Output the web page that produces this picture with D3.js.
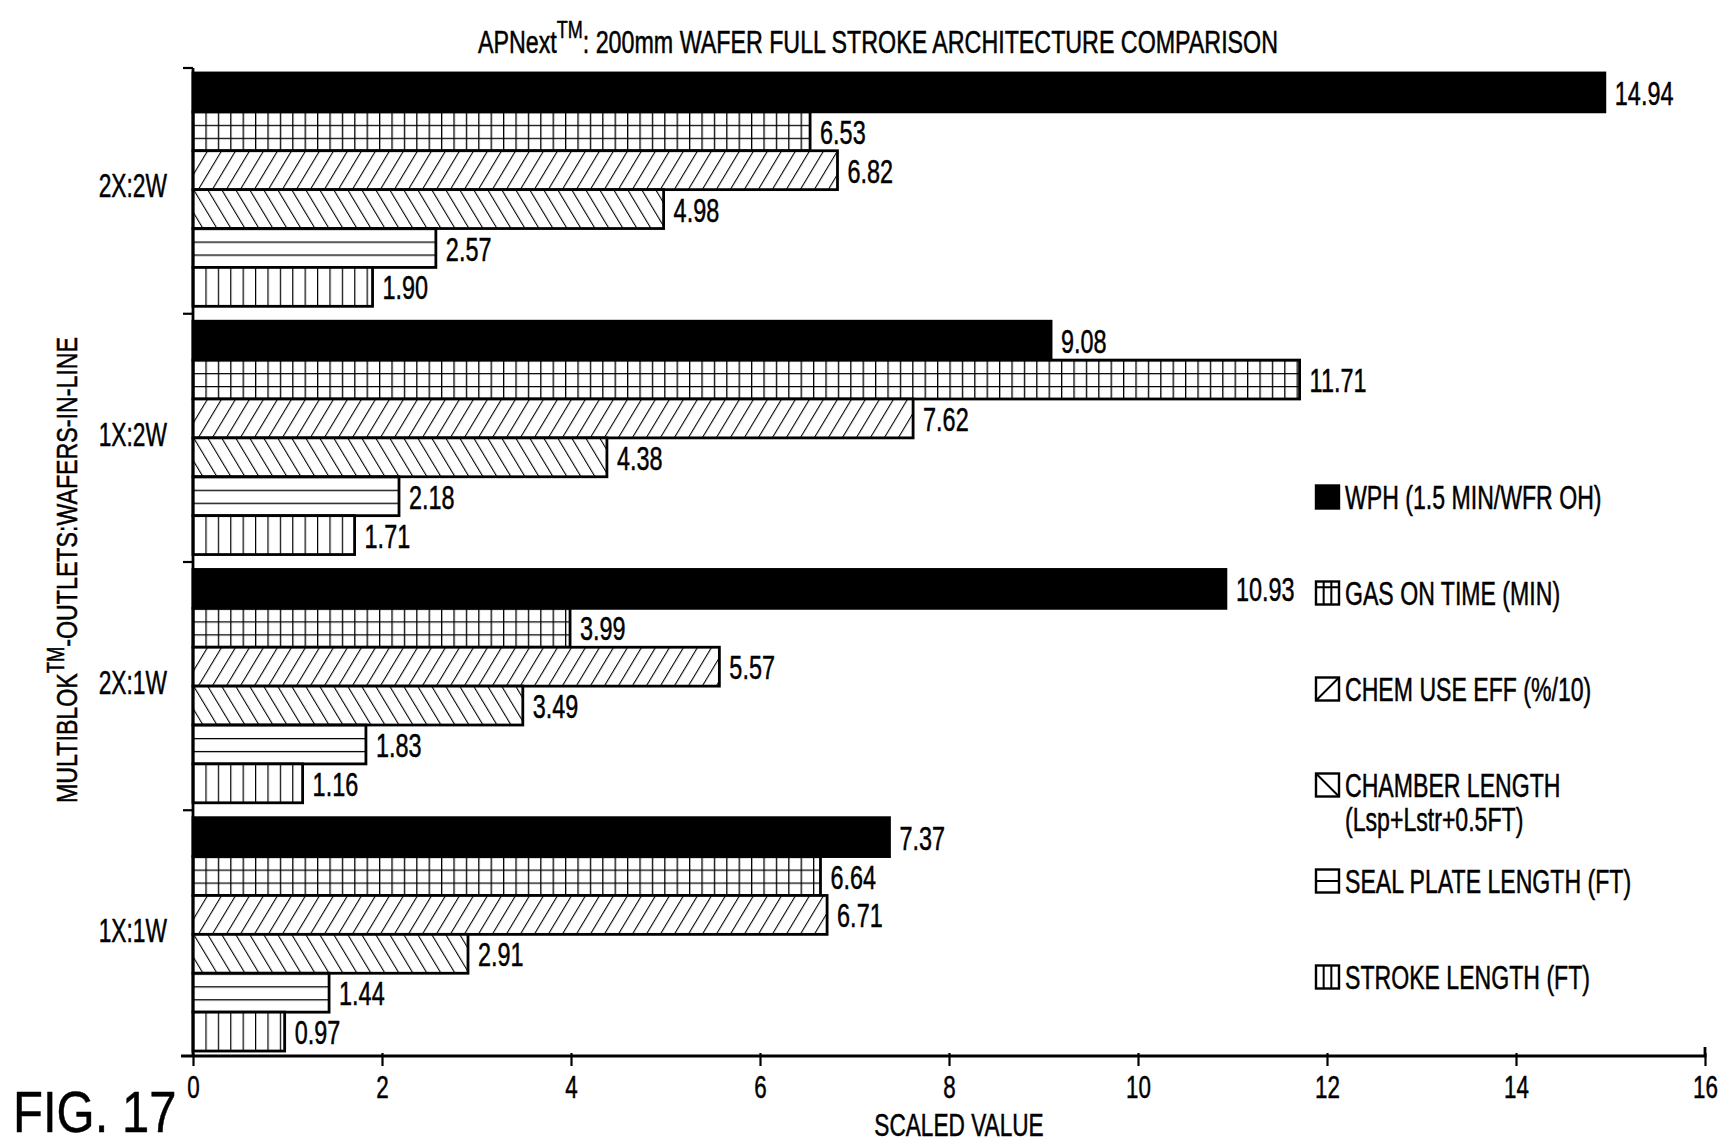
<!DOCTYPE html>
<html>
<head>
<meta charset="utf-8">
<title>APNext 200mm wafer full stroke architecture comparison</title>
<script src="https://cdn.jsdelivr.net/npm/d3@7"></script>
<style>
	body { margin: 0; background: #fff; }
	text { font-family: 'Liberation Sans', Arial, sans-serif; fill: #000; stroke: #000; stroke-width: 0.5px; }
</style>
</head>
<body>
<div id="visContainer"></div>
<script>
'use strict';

// categories top to bottom
var categories = ['2X:2W', '1X:2W', '2X:1W', '1X:1W'];

// one array per series, values in category order
var wph = [14.94, 9.08, 10.93, 7.37];
var gasOnTime = [6.53, 11.71, 3.99, 6.64];
var chemUseEff = [6.82, 7.62, 5.57, 6.71];
var chamberLength = [4.98, 4.38, 3.49, 2.91];
var sealPlateLength = [2.57, 2.18, 1.83, 1.44];
var strokeLength = [1.90, 1.71, 1.16, 0.97];

var seriesValues = [wph, gasOnTime, chemUseEff, chamberLength, sealPlateLength, strokeLength];
var seriesKeys = ['solid', 'grid', 'fwd', 'back', 'horiz', 'vert'];
var legendLabels = [
	['WPH (1.5 MIN/WFR OH)'],
	['GAS ON TIME (MIN)'],
	['CHEM USE EFF (%/10)'],
	['CHAMBER LENGTH', '(Lsp+Lstr+0.5FT)'],
	['SEAL PLATE LENGTH (FT)'],
	['STROKE LENGTH (FT)']
];
var xTicks = [0, 2, 4, 6, 8, 10, 12, 14, 16];

var svg = d3.select('#visContainer')
	.append('svg')
	.attr('width', 1725)
	.attr('height', 1143);

var MARGIN = { left: 193, top: 68 };
var plotRight = 1705;
var plotBottom = 1056;

// the original lettering is a condensed face; squeeze a normal one horizontally
var NARROW = 0.71;
function squeeze(x, y, s) {
	return 'translate(' + x + ',' + y + ') scale(' + (s || NARROW) + ',1)';
}

var x = d3.scaleLinear().domain([0, 16]).range([MARGIN.left, plotRight]);
var y0 = d3.scaleBand().domain(categories).range([MARGIN.top, plotBottom])
	.paddingInner(0.06).paddingOuter(0.02);
var y1 = d3.scaleBand().domain(d3.range(seriesValues.length)).range([0, y0.bandwidth()]);
var bh = y1.bandwidth();

// hatch patterns (userSpaceOnUse, so they line up with each bar's own origin)
var defs = svg.append('defs');
var hatchW = 12.4;
var diagW = 14;

var pGrid = defs.append('pattern').attr('id', 'grid')
	.attr('patternUnits', 'userSpaceOnUse').attr('width', hatchW).attr('height', bh / 3);
pGrid.append('rect').attr('width', hatchW).attr('height', bh / 3).attr('fill', '#fff');
pGrid.append('path').attr('d', 'M0,0H' + hatchW + 'M0,0V' + (bh / 3))
	.attr('stroke', '#000').attr('stroke-width', 2.6);

var pHoriz = defs.append('pattern').attr('id', 'horiz')
	.attr('patternUnits', 'userSpaceOnUse').attr('width', hatchW).attr('height', bh / 3);
pHoriz.append('rect').attr('width', hatchW).attr('height', bh / 3).attr('fill', '#fff');
pHoriz.append('path').attr('d', 'M0,0H' + hatchW).attr('stroke', '#000').attr('stroke-width', 2.6);

var pVert = defs.append('pattern').attr('id', 'vert')
	.attr('patternUnits', 'userSpaceOnUse').attr('width', hatchW).attr('height', bh);
pVert.append('rect').attr('width', hatchW).attr('height', bh).attr('fill', '#fff');
pVert.append('path').attr('d', 'M0,0V' + bh).attr('stroke', '#000').attr('stroke-width', 2.4);

// diagonals are skewed vertical lines
[['fwd', -31], ['back', 31]].forEach(function (p) {
	var pat = defs.append('pattern').attr('id', p[0])
		.attr('patternUnits', 'userSpaceOnUse')
		.attr('width', diagW).attr('height', bh)
		.attr('patternTransform', 'skewX(' + p[1] + ')');
	pat.append('rect').attr('x', -1).attr('width', diagW + 2).attr('height', bh).attr('fill', '#fff');
	pat.append('path').attr('d', 'M0,-1V' + (bh + 1)).attr('stroke', '#000').attr('stroke-width', 2.5);
});

function fillFor(key) {
	return key === 'solid' ? '#000' : 'url(#' + key + ')';
}

// title
var title = svg.append('text')
	.attr('transform', squeeze(478, 53, 0.75))
	.style('font-size', '31px');
title.append('tspan').text('APNext');
title.append('tspan').attr('dy', -15).style('font-size', '24px').text('TM');
title.append('tspan').attr('dy', 15).text(': 200mm WAFER FULL STROKE ARCHITECTURE COMPARISON');

// bars
var groups = svg.selectAll('.cat')
	.data(categories)
	.enter().append('g')
	.attr('class', 'cat')
	.attr('transform', function (d) { return 'translate(0,' + y0(d) + ')'; });

seriesValues.forEach(function (vals, si) {
	var bar = groups.append('g')
		.attr('transform', function (d, ci) { return 'translate(' + x(0) + ',' + y1(si) + ')'; });

	bar.append('rect')
		.attr('x', 0)
		.attr('y', 0)
		.attr('width', function (d, ci) { return x(vals[ci]) - x(0); })
		.attr('height', bh)
		.attr('fill', fillFor(seriesKeys[si]))
		.attr('stroke', '#000')
		.attr('stroke-width', 2.8);

	bar.append('text')
		.attr('transform', function (d, ci) { return squeeze(x(vals[ci]) - x(0) + 10, bh / 2 + 1); })
		.attr('dominant-baseline', 'central')
		.style('font-size', '33px')
		.text(function (d, ci) { return vals[ci].toFixed(2); });
});

// x axis
var xAxis = d3.axisBottom(x).tickValues(xTicks).tickSize(10).tickSizeOuter(0).tickPadding(14);
var gx = svg.append('g')
	.attr('transform', 'translate(0,' + plotBottom + ')')
	.call(xAxis);
gx.attr('font-family', null).attr('font-size', null);
gx.select('.domain').attr('stroke-width', 2.8).attr('d', 'M' + (x(0) - 12) + ',0H' + plotRight + 'V-9');
gx.selectAll('.tick line').attr('stroke-width', 2.2).attr('y1', -3);
gx.selectAll('.tick text')
	.attr('y', null).attr('dy', null)
	.attr('transform', squeeze(0, 42, 0.7))
	.style('font-size', '32px');

// y axis: line with ticks on the category boundaries
var gapHalf = y0.step() * y0.paddingInner() / 2;
var boundaries = categories.map(function (c, i) { return i === 0 ? MARGIN.top : y0(c) - gapHalf; });
svg.append('line')
	.attr('x1', x(0)).attr('x2', x(0))
	.attr('y1', MARGIN.top).attr('y2', plotBottom)
	.attr('stroke', '#000').attr('stroke-width', 2.8);
svg.selectAll('.ytick')
	.data(boundaries)
	.enter().append('line')
	.attr('class', 'ytick')
	.attr('x1', x(0) - 10).attr('x2', x(0))
	.attr('y1', function (d) { return d; }).attr('y2', function (d) { return d; })
	.attr('stroke', '#000').attr('stroke-width', 2.2);

svg.selectAll('.catLabel')
	.data(categories)
	.enter().append('text')
	.attr('class', 'catLabel')
	.attr('transform', function (d) { return squeeze(x(0) - 26, y0(d) + y0.bandwidth() / 2 - 4, 0.69); })
	.attr('text-anchor', 'end')
	.attr('dominant-baseline', 'central')
	.style('font-size', '33px')
	.text(function (d) { return d; });

// axis titles
svg.append('text')
	.attr('transform', squeeze(959, 1136, 0.73))
	.attr('text-anchor', 'middle')
	.style('font-size', '31px')
	.text('SCALED VALUE');

var yTitle = svg.append('text')
	.attr('transform', 'translate(77,570) rotate(-90) scale(0.8,1)')
	.attr('text-anchor', 'middle')
	.style('font-size', '29px');
yTitle.append('tspan').text('MULTIBLOK');
yTitle.append('tspan').attr('dy', -13).style('font-size', '23px').text('TM');
yTitle.append('tspan').attr('dy', 13).text('-OUTLETS:WAFERS-IN-LINE');

// figure number
svg.append('text')
	.attr('transform', squeeze(13, 1132, 0.86))
	.style('font-size', '57px')
	.text('FIG. 17');

// legend
var LEGEND = { x: 1316, y: 497, step: 96, box: 23 };
var legend = svg.selectAll('.legend')
	.data(seriesKeys)
	.enter().append('g')
	.attr('class', 'legend')
	.attr('transform', function (d, i) { return 'translate(' + LEGEND.x + ',' + (LEGEND.y + i * LEGEND.step) + ')'; });

var b = LEGEND.box;
legend.append('rect')
	.attr('x', 0).attr('y', -b / 2)
	.attr('width', b).attr('height', b)
	.attr('fill', function (d) { return d === 'solid' ? '#000' : '#fff'; })
	.attr('stroke', '#000').attr('stroke-width', 2.4);

legend.append('path')
	.attr('d', function (d) {
		var t = -b / 2;
		if (d === 'grid') return 'M0,' + (t + b / 4) + 'H' + b + 'M' + (b / 3) + ',' + t + 'V' + (t + b) + 'M' + (2 * b / 3) + ',' + t + 'V' + (t + b);
		if (d === 'fwd') return 'M0,' + (t + b) + 'L' + b + ',' + t;
		if (d === 'back') return 'M0,' + t + 'L' + b + ',' + (t + b);
		if (d === 'horiz') return 'M0,0H' + b;
		if (d === 'vert') return 'M' + (b / 3) + ',' + t + 'V' + (t + b) + 'M' + (2 * b / 3) + ',' + t + 'V' + (t + b);
		return '';
	})
	.attr('stroke', '#000').attr('stroke-width', 2).attr('fill', 'none');

legend.each(function (d, i) {
	var txt = d3.select(this).append('text')
		.attr('transform', squeeze(b + 6, 0, 0.7))
		.attr('dominant-baseline', 'central')
		.style('font-size', '33px');
	legendLabels[i].forEach(function (line, li) {
		txt.append('tspan').attr('x', 0).attr('dy', li === 0 ? 0 : 34).text(line);
	});
});
</script>
</body>
</html>
